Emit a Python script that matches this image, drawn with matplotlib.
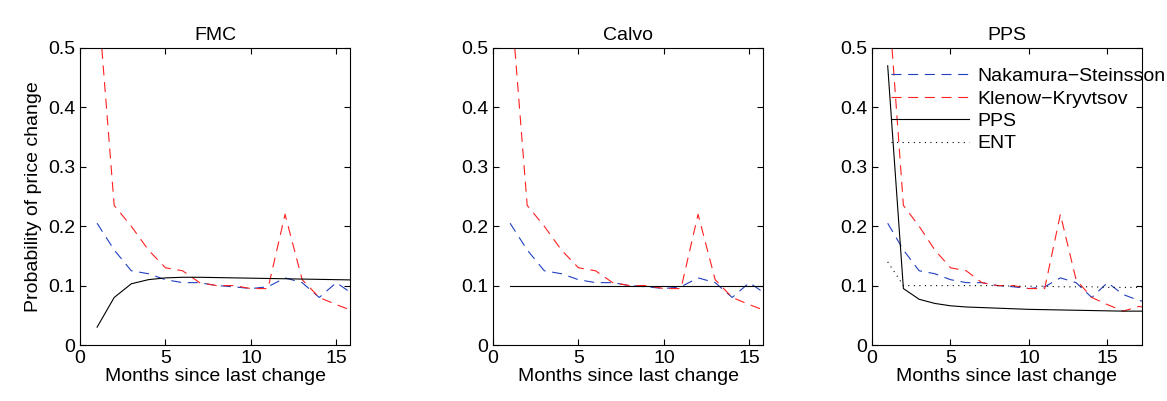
import numpy as np
import matplotlib.pyplot as plt

plt.rcParams['font.family'] = ['Liberation Sans', 'DejaVu Sans']

months = np.arange(1, 19)
ns = [0.205, 0.16, 0.125, 0.12, 0.11, 0.105, 0.105, 0.1, 0.098, 0.095, 0.098, 0.113, 0.105, 0.08, 0.105, 0.085, 0.075, 0.07]
kk = [0.6, 0.235, 0.2, 0.16, 0.13, 0.125, 0.105, 0.1, 0.1, 0.095, 0.095, 0.22, 0.11, 0.08, 0.068, 0.057, 0.065, 0.06]
fmc = [0.03, 0.08, 0.103, 0.11, 0.113, 0.114, 0.114, 0.1135, 0.113, 0.1125, 0.112, 0.1115, 0.111, 0.1105, 0.11, 0.1095, 0.109, 0.1085]
calvo = [0.1] * 18
pps = [0.47, 0.095, 0.077, 0.07, 0.066, 0.064, 0.063, 0.062, 0.061, 0.06, 0.0595, 0.059, 0.0585, 0.058, 0.0575, 0.057, 0.057, 0.057]
ent = [0.14, 0.1, 0.1, 0.1, 0.1, 0.1, 0.1, 0.1, 0.099, 0.099, 0.099, 0.098, 0.098, 0.098, 0.097, 0.097, 0.097, 0.097]

fig = plt.figure(figsize=(11.67, 4.01), dpi=100)
W, H = 1167, 401
lefts = [80, 493, 872]
axes = [fig.add_axes([l / W, (H - 345) / H, 270 / W, (345 - 48) / H]) for l in lefts]
titles = ["FMC", "Calvo", "PPS"]
models = [fmc, calvo, pps]
dash = (0, (9, 6))

for ax, t, m in zip(axes, titles, models):
    ax.plot(months, ns, color="#2040c0", lw=0.8, ls=dash, label="Nakamura\u2212Steinsson")
    ax.plot(months, kk, color="#ff2020", lw=0.8, ls=dash, label="Klenow\u2212Kryvtsov")
    ax.plot(months, m, color="black", lw=0.8, label="PPS")
    ax.set_xlim(0, 15.8)
    ax.set_ylim(0, 0.5)
    ax.set_xticks([0, 5, 10, 15])
    ax.set_yticks([0, 0.1, 0.2, 0.3, 0.4, 0.5])
    ax.set_yticklabels(["0", "0.1", "0.2", "0.3", "0.4", "0.5"])
    ax.tick_params(direction="in", labelsize=14, length=4, top=True, right=True)
    ax.set_title(t, fontsize=14)
    ax.set_xlabel("Months since last change", fontsize=14, labelpad=1)

axes[2].plot(months, ent, color="black", lw=0.8, ls=(0, (1, 4)), label="ENT")
axes[2].set_xlim(0, 17.2)
axes[0].set_ylabel("Probability of price change", fontsize=14)
axes[2].legend(loc="upper left", frameon=False, fontsize=14, handlelength=4.0,
               borderaxespad=0.0, borderpad=1.0, labelspacing=0.25, handletextpad=0.4)

fig.savefig("out.png")
